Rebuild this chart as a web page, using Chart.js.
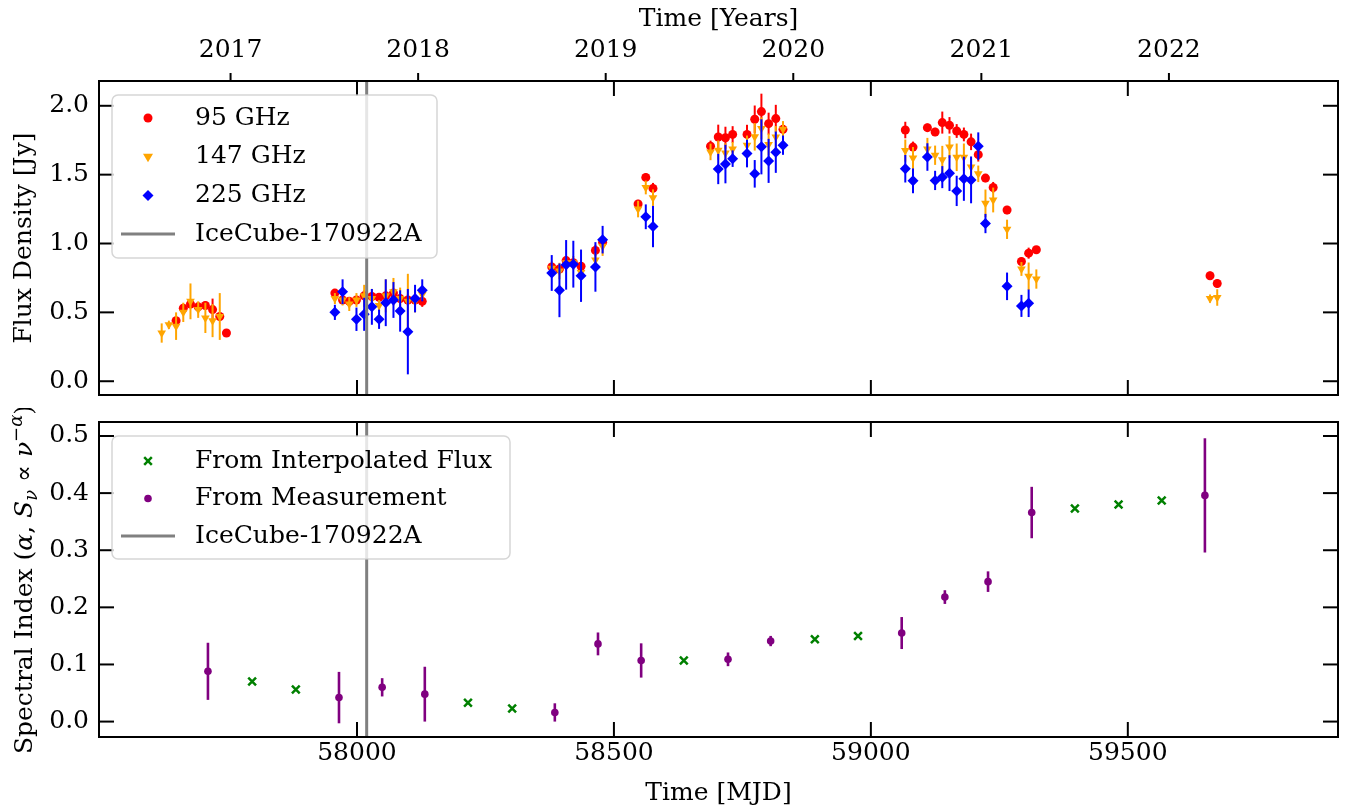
<!DOCTYPE html>
<html>
<head>
<meta charset="utf-8">
<script src="https://cdn.jsdelivr.net/npm/chart.js"></script>
<style>
  body { margin: 0; background: #fff; }
  #wrap { position: relative; width: 1345px; height: 810px; }
  canvas { position: absolute; left: 0; }
  #topChart { top: 0; }
  #botChart { top: 408px; }
</style>
</head>
<body>
<div id="wrap">
  <canvas id="topChart" width="1345" height="410"></canvas>
  <canvas id="botChart" width="1345" height="402"></canvas>
</div>
<script>
// --- flux light curves (MJD, Jy, 1-sigma) ---
const mjd95 = [57648, 57662, 57676, 57691, 57705, 57719, 57733, 57746,
  57957, 57972, 57985, 57999, 58014, 58029, 58043, 58056, 58071, 58084, 58099, 58113, 58127,
  58379, 58394, 58407, 58421, 58436, 58464, 58478, 58547, 58562, 58576,
  58688, 58703, 58717, 58731, 58759, 58774, 58787, 58801, 58815, 58829,
  59067, 59082, 59110, 59125, 59139, 59153, 59167, 59181, 59195, 59209, 59223, 59238, 59265, 59293, 59307, 59322,
  59660, 59674];
const flux95 = [0.44, 0.53, 0.56, 0.54, 0.55, 0.52, 0.47, 0.35,
  0.64, 0.59, 0.58, 0.59, 0.62, 0.615, 0.61, 0.62, 0.64, 0.60, 0.59, 0.59, 0.58,
  0.83, 0.815, 0.876, 0.86, 0.835, 0.95, 1.01, 1.287, 1.48, 1.40,
  1.707, 1.773, 1.768, 1.792, 1.792, 1.902, 1.958, 1.870, 1.907, 1.829,
  1.824, 1.70, 1.841, 1.81, 1.878, 1.858, 1.817, 1.792, 1.738, 1.645, 1.475, 1.407, 1.243, 0.869, 0.930, 0.955,
  0.766, 0.71];
const err95 = [0.02, 0.03, 0.03, 0.03, 0.03, 0.08, 0.03, 0.02,
  0.03, 0.03, 0.03, 0.03, 0.04, 0.03, 0.03, 0.03, 0.03, 0.03, 0.04, 0.03, 0.04,
  0.03, 0.03, 0.03, 0.03, 0.03, 0.04, 0.04, 0.03, 0.03, 0.04,
  0.04, 0.09, 0.08, 0.06, 0.07, 0.10, 0.13, 0.08, 0.10, 0.04,
  0.06, 0.04, 0.03, 0.03, 0.08, 0.06, 0.05, 0.05, 0.06, 0.05, 0.03, 0.04, 0.03, 0.03, 0.04, 0.02,
  0.03, 0.03];

const mjd147 = [57620, 57634, 57648, 57662, 57676, 57691, 57705, 57719, 57733,
  57957, 57972, 57985, 57999, 58014, 58029, 58043, 58056, 58071, 58084, 58099, 58113, 58127,
  58379, 58394, 58407, 58421, 58436, 58464, 58478, 58547, 58562, 58576,
  58688, 58703, 58717, 58731, 58759, 58774, 58787, 58801, 58815, 58829,
  59067, 59082, 59110, 59125, 59139, 59153, 59167, 59181, 59195, 59209, 59223, 59238, 59265, 59293, 59307, 59322,
  59660, 59674];
const flux147 = [0.35, 0.41, 0.40, 0.50, 0.58, 0.52, 0.46, 0.44, 0.47,
  0.60, 0.59, 0.56, 0.59, 0.62, 0.60, 0.55, 0.62, 0.65, 0.60, 0.58, 0.58, 0.63,
  0.82, 0.80, 0.86, 0.86, 0.79, 0.88, 0.98, 1.25, 1.407, 1.333,
  1.665, 1.678, 1.658, 1.687, 1.714, 1.775, 1.836, 1.719, 1.773, 1.829,
  1.675, 1.621, 1.687, 1.641, 1.609, 1.70, 1.626, 1.626, 1.555, 1.506, 1.292, 1.316, 1.103, 0.815, 0.762, 0.742,
  0.60, 0.608];
const err147 = [0.07, 0.03, 0.10, 0.07, 0.13, 0.06, 0.11, 0.12, 0.17,
  0.04, 0.04, 0.05, 0.05, 0.08, 0.07, 0.04, 0.12, 0.10, 0.08, 0.20, 0.08, 0.04,
  0.05, 0.06, 0.05, 0.05, 0.05, 0.05, 0.07, 0.06, 0.05, 0.06,
  0.06, 0.07, 0.07, 0.05, 0.07, 0.10, 0.08, 0.08, 0.08, 0.06,
  0.08, 0.08, 0.08, 0.07, 0.10, 0.08, 0.10, 0.10, 0.07, 0.06, 0.10, 0.09, 0.07, 0.05, 0.10, 0.07,
  0.03, 0.06];

const mjd225 = [57957, 57972, 57999, 58014, 58029, 58043, 58056, 58071, 58084, 58099, 58113, 58127,
  58379, 58394, 58407, 58421, 58436, 58464, 58478, 58562, 58576,
  58703, 58717, 58731, 58759, 58774, 58787, 58801, 58815, 58829,
  59067, 59082, 59110, 59125, 59139, 59153, 59167, 59181, 59195, 59209, 59223, 59265, 59293, 59307];
const flux225 = [0.50, 0.65, 0.45, 0.486, 0.54, 0.45, 0.57, 0.59, 0.51, 0.36, 0.60, 0.66,
  0.786, 0.66, 0.845, 0.85, 0.766, 0.83, 1.028, 1.194, 1.123,
  1.541, 1.577, 1.616, 1.653, 1.506, 1.702, 1.60, 1.663, 1.714,
  1.543, 1.455, 1.628, 1.458, 1.482, 1.511, 1.382, 1.47, 1.462, 1.707, 1.145, 0.689, 0.547, 0.566];
const err225 = [0.055, 0.09, 0.085, 0.12, 0.13, 0.07, 0.17, 0.13, 0.15, 0.31, 0.10, 0.08,
  0.13, 0.195, 0.18, 0.17, 0.19, 0.18, 0.10, 0.09, 0.15,
  0.11, 0.14, 0.06, 0.10, 0.10, 0.20, 0.16, 0.15, 0.07,
  0.10, 0.09, 0.10, 0.07, 0.08, 0.13, 0.11, 0.16, 0.17, 0.10, 0.07, 0.10, 0.08, 0.10];

// --- spectral index ---
const interpMjd = [57796, 57881, 58216, 58302, 58636, 58891, 58975, 59397, 59482, 59566];
const interpAlpha = [0.070, 0.056, 0.033, 0.023, 0.107, 0.144, 0.150, 0.373, 0.380, 0.387];
const measMjd = [57710, 57965, 58049, 58132, 58385, 58469, 58553, 58722, 58805, 59060, 59144, 59228, 59313, 59650];
const measAlpha = [0.088, 0.042, 0.060, 0.048, 0.016, 0.136, 0.107, 0.109, 0.141, 0.155, 0.218, 0.245, 0.366, 0.396];
const measErr = [0.050, 0.045, 0.016, 0.048, 0.016, 0.020, 0.030, 0.012, 0.009, 0.028, 0.012, 0.018, 0.045, 0.100];

// --- axes ---
const mjdTicks = [58000, 58500, 59000, 59500];
const yearTicks = [57754, 58119, 58484, 58849, 59215, 59580]; // Jan 1st of each year
const yearLabels = ['2017', '2018', '2019', '2020', '2021', '2022'];
const fluxTicks = [0.0, 0.5, 1.0, 1.5, 2.0];
const alphaTicks = [0.0, 0.1, 0.2, 0.3, 0.4, 0.5];
const iceCubeMjd = 58018.87;

const X_MIN = 57498, X_MAX = 59909;
const FAM = 'DejaVu Serif';
const FONT = { family: FAM, size: 25 };

const pts = (xs, ys) => xs.map((x, i) => ({ x: x, y: ys[i] }));

function line(ctx, x1, y1, x2, y2) {
    ctx.beginPath();
    ctx.moveTo(x1, y1);
    ctx.lineTo(x2, y2);
    ctx.stroke();
}

// fixed axis sizes, no auto padding from edge labels
function fixSize(w, h) {
    return s => {
        if (w !== null) s.width = w;
        if (h !== null) s.height = h;
        s.paddingTop = 0; s.paddingBottom = 0; s.paddingLeft = 0; s.paddingRight = 0;
    };
}

// vertical error bars, drawn just before each dataset's markers
const errorBars = {
    id: 'errorBars',
    beforeDatasetDraw(chart, args) {
        const ds = chart.data.datasets[args.index];
        if (!ds.errs) return;
        const { ctx, scales: { x, y } } = chart;
        ctx.save();
        ctx.strokeStyle = ds.borderColor;
        ctx.lineWidth = ds.errWidth || 2;
        ds.data.forEach((p, i) => {
            const px = x.getPixelForValue(p.x);
            line(ctx, px, y.getPixelForValue(p.y - ds.errs[i]), px, y.getPixelForValue(p.y + ds.errs[i]));
        });
        ctx.restore();
    }
};

// IceCube line, inward ticks and the box around the axes
const frame = {
    id: 'frame',
    afterDatasetsDraw(chart, args, opts) {
        const { ctx, chartArea: a, scales: { x, y } } = chart;
        ctx.save();
        ctx.strokeStyle = 'gray';
        ctx.lineWidth = 3;
        const ix = x.getPixelForValue(iceCubeMjd);
        line(ctx, ix, a.top, ix, a.bottom);

        ctx.strokeStyle = '#000';
        ctx.lineWidth = 2;
        mjdTicks.forEach(v => {
            const px = x.getPixelForValue(v);
            line(ctx, px, a.bottom, px, a.bottom - 15);
            line(ctx, px, a.top, px, a.top + 15);
        });
        opts.yTicks.forEach(v => {
            const py = y.getPixelForValue(v);
            line(ctx, a.left, py, a.left + 15, py);
            line(ctx, a.right, py, a.right - 15, py);
        });
        if (opts.years) {
            yearTicks.forEach(v => {
                const px = x.getPixelForValue(v);
                line(ctx, px, a.top, px, a.top - 8);
            });
        }
        ctx.strokeRect(a.left, a.top, a.right - a.left, a.bottom - a.top);
        ctx.restore();
    }
};

function drawMarker(ctx, kind, x, y, color) {
    ctx.save();
    ctx.fillStyle = color;
    ctx.strokeStyle = color;
    ctx.beginPath();
    if (kind === 'circle') {
        ctx.arc(x, y, 4.5, 0, Math.PI * 2);
        ctx.fill();
    } else if (kind === 'smallcircle') {
        ctx.arc(x, y, 3.8, 0, Math.PI * 2);
        ctx.fill();
    } else if (kind === 'tri') {
        ctx.moveTo(x - 5, y - 3);
        ctx.lineTo(x + 5, y - 3);
        ctx.lineTo(x, y + 5.5);
        ctx.closePath();
        ctx.fill();
    } else if (kind === 'diamond') {
        ctx.moveTo(x, y - 5.5);
        ctx.lineTo(x + 5.5, y);
        ctx.lineTo(x, y + 5.5);
        ctx.lineTo(x - 5.5, y);
        ctx.closePath();
        ctx.fill();
    } else if (kind === 'cross') {
        ctx.lineWidth = 2.5;
        line(ctx, x - 3.8, y - 3.8, x + 3.8, y + 3.8);
        line(ctx, x - 3.8, y + 3.8, x + 3.8, y - 3.8);
    } else if (kind === 'line') {
        ctx.lineWidth = 3;
        line(ctx, x - 27, y, x + 27, y);
    }
    ctx.restore();
}

// matplotlib-like legend box inside the axes
const legendBox = {
    id: 'legendBox',
    afterDraw(chart, args, opts) {
        const { ctx, chartArea: a } = chart;
        const bx = a.left + 13, by = a.top + 14;
        ctx.save();
        ctx.beginPath();
        ctx.roundRect(bx, by, opts.w, opts.h, 6);
        ctx.fillStyle = 'rgba(255,255,255,0.8)';
        ctx.fill();
        ctx.strokeStyle = 'rgba(204,204,204,0.8)';
        ctx.lineWidth = 1.5;
        ctx.stroke();
        ctx.font = '25px "' + FAM + '"';
        ctx.textBaseline = 'middle';
        opts.items.forEach((it, i) => {
            const yy = by + opts.first + i * opts.step;
            drawMarker(ctx, it.marker, bx + 36, yy, it.color);
            ctx.fillStyle = '#000';
            ctx.fillText(it.label, bx + 83, yy);
        });
        ctx.restore();
    }
};

// rotated y label with math for the lower panel
const alphaTitle = {
    id: 'alphaTitle',
    afterDraw(chart) {
        const { ctx, chartArea: a } = chart;
        const n = '25px "' + FAM + '"', it = 'italic 25px "' + FAM + '"', sm = 'italic 18px "' + FAM + '"';
        const segs = [
            { t: 'Spectral Index (', f: n, dy: 0 },
            { t: 'α', f: it, dy: 0 },
            { t: ', ', f: n, dy: 0 },
            { t: 'S', f: it, dy: 0 },
            { t: 'ν', f: sm, dy: 5 },
            { t: ' ∝ ', f: n, dy: 0 },
            { t: 'ν', f: it, dy: 0 },
            { t: '−α', f: sm, dy: -10 },
            { t: ')', f: n, dy: 0 }
        ];
        ctx.save();
        let total = 0;
        segs.forEach(s => { ctx.font = s.f; s.w = ctx.measureText(s.t).width; total += s.w; });
        ctx.translate(24, (a.top + a.bottom) / 2);
        ctx.rotate(-Math.PI / 2);
        ctx.fillStyle = '#000';
        ctx.textBaseline = 'alphabetic';
        let cx = -total / 2;
        segs.forEach(s => {
            ctx.font = s.f;
            ctx.fillText(s.t, cx, 8 + s.dy);
            cx += s.w;
        });
        ctx.restore();
    }
};

const noGrid = { display: false, drawTicks: false };
const noBorder = { display: false };

new Chart(document.getElementById('topChart'), {
    type: 'scatter',
    data: {
        datasets: [
            { label: '95 GHz', data: pts(mjd95, flux95), errs: err95, order: 3,
              backgroundColor: 'red', borderColor: 'red', pointStyle: 'circle', pointRadius: 4.5, borderWidth: 0 },
            { label: '147 GHz', data: pts(mjd147, flux147), errs: err147, order: 2,
              backgroundColor: 'orange', borderColor: 'orange', pointStyle: 'triangle', rotation: 180, pointRadius: 5, borderWidth: 0 },
            { label: '225 GHz', data: pts(mjd225, flux225), errs: err225, order: 1,
              backgroundColor: 'blue', borderColor: 'blue', pointStyle: 'rectRot', pointRadius: 5.5, borderWidth: 0 }
        ]
    },
    options: {
        responsive: false,
        animation: false,
        events: [],
        layout: { autoPadding: false, padding: { top: 0, left: 0, bottom: 0, right: 7 } },
        plugins: {
            legend: { display: false },
            tooltip: { enabled: false },
            frame: { yTicks: fluxTicks, years: true },
            legendBox: {
                w: 325, h: 163, first: 23, step: 38.7,
                items: [
                    { label: '95 GHz', marker: 'circle', color: 'red' },
                    { label: '147 GHz', marker: 'tri', color: 'orange' },
                    { label: '225 GHz', marker: 'diamond', color: 'blue' },
                    { label: 'IceCube-170922A', marker: 'line', color: 'gray' }
                ]
            }
        },
        scales: {
            x: {
                type: 'linear', position: 'bottom', min: X_MIN, max: X_MAX,
                ticks: { display: false }, grid: noGrid, border: noBorder,
                afterFit: fixSize(null, 15)
            },
            xTop: {
                type: 'linear', position: 'top', min: X_MIN, max: X_MAX,
                afterBuildTicks: s => { s.ticks = yearTicks.map(v => ({ value: v })); },
                ticks: { callback: (v, i) => yearLabels[i], padding: 16, font: FONT, color: '#000', autoSkip: false, maxRotation: 0 },
                grid: noGrid, border: noBorder,
                title: { display: true, text: 'Time [Years]', font: FONT, color: '#000', padding: { top: 4, bottom: 0 } },
                afterFit: fixSize(null, 81)
            },
            y: {
                min: -0.1, max: 2.18,
                afterBuildTicks: s => { s.ticks = fluxTicks.map(v => ({ value: v })); },
                ticks: { callback: v => v.toFixed(1), padding: 10, font: FONT, color: '#000' },
                grid: noGrid, border: noBorder,
                title: { display: true, text: 'Flux Density [Jy]', font: FONT, color: '#000', padding: { top: 9, bottom: 0 } },
                afterFit: fixSize(99, null)
            }
        }
    },
    plugins: [errorBars, frame, legendBox]
});

new Chart(document.getElementById('botChart'), {
    type: 'scatter',
    data: {
        datasets: [
            { label: 'From Interpolated Flux', data: pts(interpMjd, interpAlpha), order: 2,
              backgroundColor: 'green', borderColor: 'green', pointStyle: 'crossRot', pointRadius: 5.5, borderWidth: 2.5 },
            { label: 'From Measurement', data: pts(measMjd, measAlpha), errs: measErr, errWidth: 2.6, order: 1,
              backgroundColor: 'purple', borderColor: 'purple', pointStyle: 'circle', pointRadius: 3.8, borderWidth: 0 }
        ]
    },
    options: {
        responsive: false,
        animation: false,
        events: [],
        layout: { autoPadding: false, padding: { top: 14, left: 0, bottom: 0, right: 7 } },
        plugins: {
            legend: { display: false },
            tooltip: { enabled: false },
            frame: { yTicks: alphaTicks, years: false },
            legendBox: {
                w: 398, h: 123, first: 25, step: 37.5,
                items: [
                    { label: 'From Interpolated Flux', marker: 'cross', color: 'green' },
                    { label: 'From Measurement', marker: 'smallcircle', color: 'purple' },
                    { label: 'IceCube-170922A', marker: 'line', color: 'gray' }
                ]
            }
        },
        scales: {
            x: {
                type: 'linear', position: 'bottom', min: X_MIN, max: X_MAX,
                afterBuildTicks: s => { s.ticks = mjdTicks.map(v => ({ value: v })); },
                ticks: { callback: v => String(v), padding: 1, font: FONT, color: '#000', autoSkip: false, maxRotation: 0 },
                grid: noGrid, border: noBorder,
                title: { display: true, text: 'Time [MJD]', font: FONT, color: '#000', padding: { top: 0, bottom: 2 } },
                afterFit: fixSize(null, 73)
            },
            y: {
                min: -0.027, max: 0.5245,
                afterBuildTicks: s => { s.ticks = alphaTicks.map(v => ({ value: v })); },
                ticks: { callback: v => v.toFixed(1), padding: 10, font: FONT, color: '#000' },
                grid: noGrid, border: noBorder,
                title: { display: false },
                afterFit: fixSize(99, null)
            }
        }
    },
    plugins: [errorBars, frame, legendBox, alphaTitle]
});
</script>
</body>
</html>
